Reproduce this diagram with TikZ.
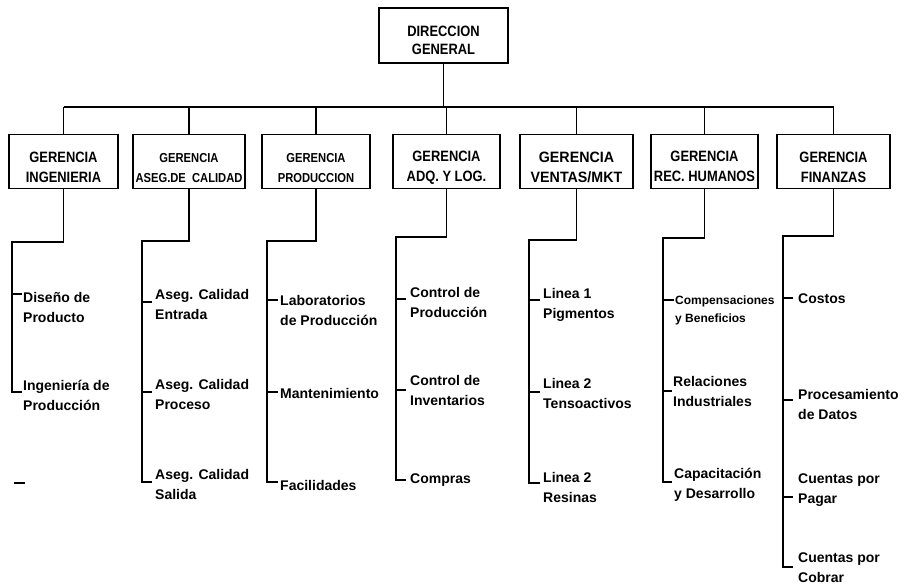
\documentclass[tikz,border=0pt]{standalone}
\usepackage{fontspec}
\setmainfont{Liberation Sans}
\newfontfamily\boxfont[FakeStretch=0.86]{Liberation Sans Bold}
\newfontfamily\boxwidefont[FakeStretch=0.95]{Liberation Sans Bold}
% two stacked lines whose baseline is the first line's baseline
\newcommand\twoline[2]{\vtop{\baselineskip=20pt\hbox{#1}\hbox{#2}}}
\newcommand\twolinesmall[2]{\vtop{\baselineskip=18pt\hbox{#1}\hbox{#2}}}
% invisible strut that lowers the two lines inside a box
\newcommand\boxstrut[1]{\rule{0pt}{#1}}

\tikzset{
  unit/.style={draw, line width=1.3pt, minimum height=54pt, inner sep=0pt,
    align=center, font=\boxfont\fontsize{15}{20}\selectfont},
  unitsmall/.style={unit, font=\boxfont\fontsize{13}{20}\selectfont},
  item/.style={anchor=base west, inner sep=0pt, font=\bfseries\fontsize{14}{20}\selectfont},
  itemsmall/.style={item, font=\bfseries\fontsize{12}{18}\selectfont},
  link/.style={line width=1.3pt}
}

\begin{document}
\begin{tikzpicture}[x=1pt, y=-1pt]
\fill[white] (0,0) rectangle (909,584);
\useasboundingbox (0,0) rectangle (909,584);

% top management
\node[unit, minimum width=129pt, minimum height=55pt, font=\boxfont\fontsize{15}{18}\selectfont]
  (dg) at (443.5,35.5) {\boxstrut{20pt}DIRECCION\\GENERAL};

% managements
\node[unit, minimum width=109pt] (g1) at (63.5,161.5) {\boxstrut{23pt}GERENCIA\\INGENIERIA};
\node[unitsmall, minimum width=112pt] (g2) at (189,161.5) {\boxstrut{23pt}GERENCIA\\ASEG.DE\ \ CALIDAD};
\node[unitsmall, minimum width=108pt] (g3) at (316,161.5) {\boxstrut{23pt}GERENCIA\\PRODUCCION};
\node[unit, minimum width=107pt] (g4) at (446.5,161.5) {\boxstrut{23pt}GERENCIA\\ADQ. Y LOG.};
\node[unit, minimum width=113pt, font=\boxwidefont\fontsize{15}{20}\selectfont]
  (g5) at (576.5,161.5) {\boxstrut{23pt}GERENCIA\\VENTAS/MKT};
\node[unit, minimum width=107pt] (g6) at (704.5,161.5) {\boxstrut{21pt}GERENCIA\\REC. HUMANOS};
\node[unit, minimum width=113pt] (g7) at (833.5,161.5) {\boxstrut{23pt}GERENCIA\\FINANZAS};

% bus from the top box to every management
\coordinate (bus) at (0,107);
\draw[link] (dg.south) -- (dg.south |- bus);
\draw[link] (g1.north |- bus) -- (g7.north |- bus);
\foreach \g in {g1,g2,g3,g4,g5,g6,g7}
  \draw[link] (\g.north) -- (\g.north |- bus);

% column heads
\coordinate (c1) at (12,242);
\coordinate (c2) at (142,241);
\coordinate (c3) at (267,241);
\coordinate (c4) at (396,237);
\coordinate (c5) at (529,240);
\coordinate (c6) at (663,238);
\coordinate (c7) at (783,236);

% ---- Ingenieria
\node[item] (i11) at (23,302) {\twoline{Diseño de}{Producto}};
\node[item] (i12) at (23,390) {\twoline{Ingeniería de}{Producción}};
\coordinate (t11) at (22,294);
\coordinate (t12) at (22,392);
\draw[link] (g1.south) |- (c1) -- (c1 |- t12) -- (t12);
\draw[link] (c1 |- t11) -- (t11);
\coordinate (d1) at (14,483);
\coordinate (d2) at (25,483);
\draw[link] (d1) -- (d2);

% ---- Aseguramiento de calidad
\node[item] (i21) at (155,299) {\twoline{Aseg. Calidad}{Entrada}};
\node[item] (i22) at (155,389) {\twoline{Aseg. Calidad}{Proceso}};
\node[item] (i23) at (155,479) {\twoline{Aseg. Calidad}{Salida}};
\coordinate (t21) at (152,302);
\coordinate (t22) at (152,392);
\coordinate (t23) at (152,482);
\draw[link] (g2.south) |- (c2) -- (c2 |- t23) -- (t23);
\draw[link] (c2 |- t21) -- (t21);
\draw[link] (c2 |- t22) -- (t22);

% ---- Produccion
\node[item] (i31) at (280,305) {\twoline{Laboratorios}{de Producción}};
\node[item] (i32) at (280,398) {Mantenimiento};
\node[item] (i33) at (280,490) {Facilidades};
\coordinate (t31) at (278,300);
\coordinate (t32) at (278,392);
\coordinate (t33) at (278,482);
\draw[link] (g3.south) |- (c3) -- (c3 |- t33) -- (t33);
\draw[link] (c3 |- t31) -- (t31);
\draw[link] (c3 |- t32) -- (t32);

% ---- Adquisiciones y logistica
\node[item] (i41) at (410,297) {\twoline{Control de}{Producción}};
\node[item] (i42) at (410,385) {\twoline{Control de}{Inventarios}};
\node[item] (i43) at (410,483) {Compras};
\coordinate (t41) at (406,299);
\coordinate (t42) at (406,390);
\coordinate (t43) at (406,480);
\draw[link] (g4.south) |- (c4) -- (c4 |- t43) -- (t43);
\draw[link] (c4 |- t41) -- (t41);
\draw[link] (c4 |- t42) -- (t42);

% ---- Ventas / MKT
\node[item] (i51) at (543,298) {\twoline{Linea 1}{Pigmentos}};
\node[item] (i52) at (543,388) {\twoline{Linea 2}{Tensoactivos}};
\node[item] (i53) at (543,482) {\twoline{Linea 2}{Resinas}};
\coordinate (t51) at (540,300);
\coordinate (t52) at (540,392);
\coordinate (t53) at (540,483);
\draw[link] (g5.south) |- (c5) -- (c5 |- t53) -- (t53);
\draw[link] (c5 |- t51) -- (t51);
\draw[link] (c5 |- t52) -- (t52);

% ---- Recursos humanos
\node[itemsmall] (i61) at (675,304) {\twolinesmall{Compensaciones}{y Beneficios}};
\node[item] (i62) at (673,386) {\twoline{Relaciones}{Industriales}};
\node[item] (i63) at (674,478) {\twoline{Capacitación}{y Desarrollo}};
\coordinate (t61) at (674,300);
\coordinate (t62) at (672,391);
\coordinate (t63) at (672,482);
\draw[link] (g6.south) |- (c6) -- (c6 |- t63) -- (t63);
\draw[link] (c6 |- t61) -- (t61);
\draw[link] (c6 |- t62) -- (t62);

% ---- Finanzas
\node[item] (i71) at (798,303) {Costos};
\node[item] (i72) at (798,399) {\twoline{Procesamiento}{de Datos}};
\node[item] (i73) at (798,483) {\twoline{Cuentas por}{Pagar}};
\node[item] (i74) at (798,562) {\twoline{Cuentas por}{Cobrar}};
\coordinate (t71) at (793,298);
\coordinate (t72) at (793,400);
\coordinate (t73) at (793,497);
\coordinate (t74) at (793,567);
\draw[link] (g7.south) |- (c7) -- (c7 |- t74) -- (t74);
\draw[link] (c7 |- t71) -- (t71);
\draw[link] (c7 |- t72) -- (t72);
\draw[link] (c7 |- t73) -- (t73);
\end{tikzpicture}
\end{document}
